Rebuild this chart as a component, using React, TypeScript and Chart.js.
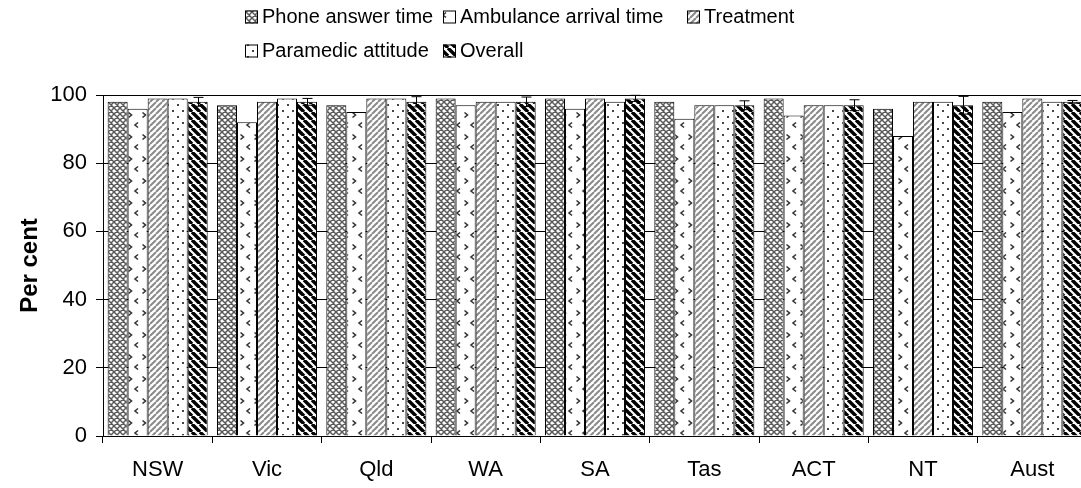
import React, { useEffect, useRef } from "react";
import { Chart, registerables } from "chart.js";

Chart.register(...registerables);

const categories = ["NSW", "Vic", "Qld", "WA", "SA", "Tas", "ACT", "NT", "Aust"];
const seriesNames = ["Phone answer time", "Ambulance arrival time", "Treatment", "Paramedic attitude", "Overall"];
const phoneAnswer = [98, 97, 97, 99, 99, 98, 99, 96, 98];
const ambulanceArrival = [96, 92, 95, 97, 96, 93, 94, 88, 95];
const treatment = [99, 98, 99, 98, 99, 97, 97, 98, 99];
const paramedicAttitude = [99, 99, 99, 98, 98, 97, 97, 98, 98];
const overall = [98, 98, 98, 98, 99, 97, 97, 97, 98];
const overallError = [1.3, 1.0, 1.5, 1.4, 0.9, 1.3, 1.6, 2.6, 0.4];
const yTicks = [0, 20, 40, 60, 80, 100];

const FONT = '"Liberation Sans", Arial, sans-serif';

function tile(w: number, h: number, draw: (c: CanvasRenderingContext2D) => void): CanvasPattern {
  const cv = document.createElement("canvas");
  cv.width = w;
  cv.height = h;
  const c = cv.getContext("2d")!;
  c.fillStyle = "#fff";
  c.fillRect(0, 0, w, h);
  draw(c);
  const main = document.createElement("canvas").getContext("2d")!;
  return main.createPattern(cv, "repeat")!;
}

function makePatterns(): CanvasPattern[] {
  const phone = tile(6, 6, (c) => {
    c.strokeStyle = "#5a5a5a";
    c.lineWidth = 1.5;
    c.beginPath();
    for (const x0 of [-6, 0, 6]) {
      c.moveTo(x0, 0); c.lineTo(x0 + 6, 6);
      c.moveTo(x0, 6); c.lineTo(x0 + 6, 0);
    }
    c.stroke();
  });
  const amb = tile(14, 22, (c) => {
    c.strokeStyle = "#333";
    c.lineWidth = 1.6;
    c.beginPath();
    c.moveTo(2.5, 2.5); c.lineTo(5.5, 5); c.lineTo(2.5, 7.5);
    c.moveTo(12, 12.5); c.lineTo(9, 15); c.lineTo(12, 17.5);
    c.stroke();
  });
  const treat = tile(6, 6, (c) => {
    c.strokeStyle = "#8a8a8a";
    c.lineWidth = 2;
    c.beginPath();
    for (const x0 of [-6, 0, 6]) {
      c.moveTo(x0, 6); c.lineTo(x0 + 6, 0);
    }
    c.stroke();
  });
  const para = tile(10, 12, (c) => {
    c.fillStyle = "#444";
    c.fillRect(2, 2, 2, 2);
    c.fillRect(7, 8, 2, 2);
  });
  const over = tile(8, 8, (c) => {
    c.strokeStyle = "#000";
    c.lineWidth = 3.4;
    c.beginPath();
    for (const x0 of [-8, 0, 8]) {
      c.moveTo(x0, 0); c.lineTo(x0 + 8, 8);
    }
    c.stroke();
  });
  return [phone, amb, treat, para, over];
}

export default function App() {
  const ref = useRef<HTMLCanvasElement>(null);
  useEffect(() => {
    const patterns = makePatterns();
    const values = [phoneAnswer, ambulanceArrival, treatment, paramedicAttitude, overall];

    const legendPlugin = {
      id: "customLegend",
      afterDraw(chart: any) {
        const ctx = chart.ctx as CanvasRenderingContext2D;
        const cols = [245, 443, 687];
        const rows = [17, 51];
        ctx.save();
        ctx.font = `20px ${FONT}`;
        ctx.textBaseline = "middle";
        seriesNames.forEach((name, i) => {
          const x = cols[i % 3];
          const y = rows[Math.floor(i / 3)];
          ctx.fillStyle = patterns[i];
          ctx.fillRect(x, y - 6.5, 13, 13);
          ctx.strokeStyle = "#000";
          ctx.lineWidth = 1;
          ctx.strokeRect(x + 0.5, y - 6, 12, 12);
          ctx.fillStyle = "#000";
          ctx.fillText(name, x + 17, y);
        });
        ctx.restore();
      },
    };

    const errorPlugin = {
      id: "errorBars",
      afterDatasetsDraw(chart: any) {
        const ctx = chart.ctx as CanvasRenderingContext2D;
        const meta = chart.getDatasetMeta(4);
        const ys = chart.scales.y;
        ctx.save();
        ctx.strokeStyle = "#000";
        ctx.lineWidth = 1;
        meta.data.forEach((el: any, i: number) => {
          const x = Math.round(el.x) + 0.5;
          const top = ys.getPixelForValue(overall[i] + overallError[i]);
          const bot = ys.getPixelForValue(overall[i] - overallError[i]);
          ctx.beginPath();
          ctx.moveTo(x, top); ctx.lineTo(x, bot);
          ctx.moveTo(x - 5, top); ctx.lineTo(x + 5, top);
          ctx.moveTo(x - 5, bot); ctx.lineTo(x + 5, bot);
          ctx.stroke();
        });
        ctx.restore();
      },
    };

    const chart = new Chart(ref.current!, {
      type: "bar",
      data: {
        labels: categories,
        datasets: seriesNames.map((name, i) => ({
          label: name,
          data: values[i],
          backgroundColor: patterns[i] as any,
          borderColor: "#000",
          borderWidth: 1,
          barPercentage: 1,
          categoryPercentage: 0.915,
        })),
      },
      options: {
        animation: false,
        responsive: true,
        maintainAspectRatio: false,
        layout: { padding: { top: 95, right: 3, left: 0, bottom: 0 } },
        plugins: { legend: { display: false }, tooltip: { enabled: false } },
        scales: {
          x: {
            grid: { display: true, drawOnChartArea: false, drawTicks: true, tickLength: 7, color: "#000", offset: true },
            border: { color: "#000", width: 1 },
            ticks: { color: "#000", font: { family: FONT, size: 22 }, padding: 14, maxRotation: 0 },
            afterFit(scale: any) { scale.height = 52; },
          },
          y: {
            min: 0,
            max: 100,
            afterBuildTicks(scale: any) { scale.ticks = yTicks.map((v) => ({ value: v })); },
            grid: { color: "#000", tickLength: 7, drawTicks: true },
            border: { color: "#000", width: 1 },
            ticks: { color: "#000", font: { family: FONT, size: 22 }, padding: 9 },
            title: { display: true, text: "Per cent", color: "#000", font: { family: FONT, size: 24, weight: "bold" }, padding: { top: 16, bottom: 0 } },
            afterFit(scale: any) { scale.width = 103; },
          },
        },
      },
      plugins: [legendPlugin, errorPlugin],
    });
    return () => chart.destroy();
  }, []);

  return (
    <div style={{ position: "absolute", left: 0, top: 0, width: 1081, height: 488, overflow: "hidden", background: "#fff" }}>
      <div style={{ position: "relative", width: 1090, height: 488 }}>
        <canvas ref={ref} />
      </div>
    </div>
  );
}
